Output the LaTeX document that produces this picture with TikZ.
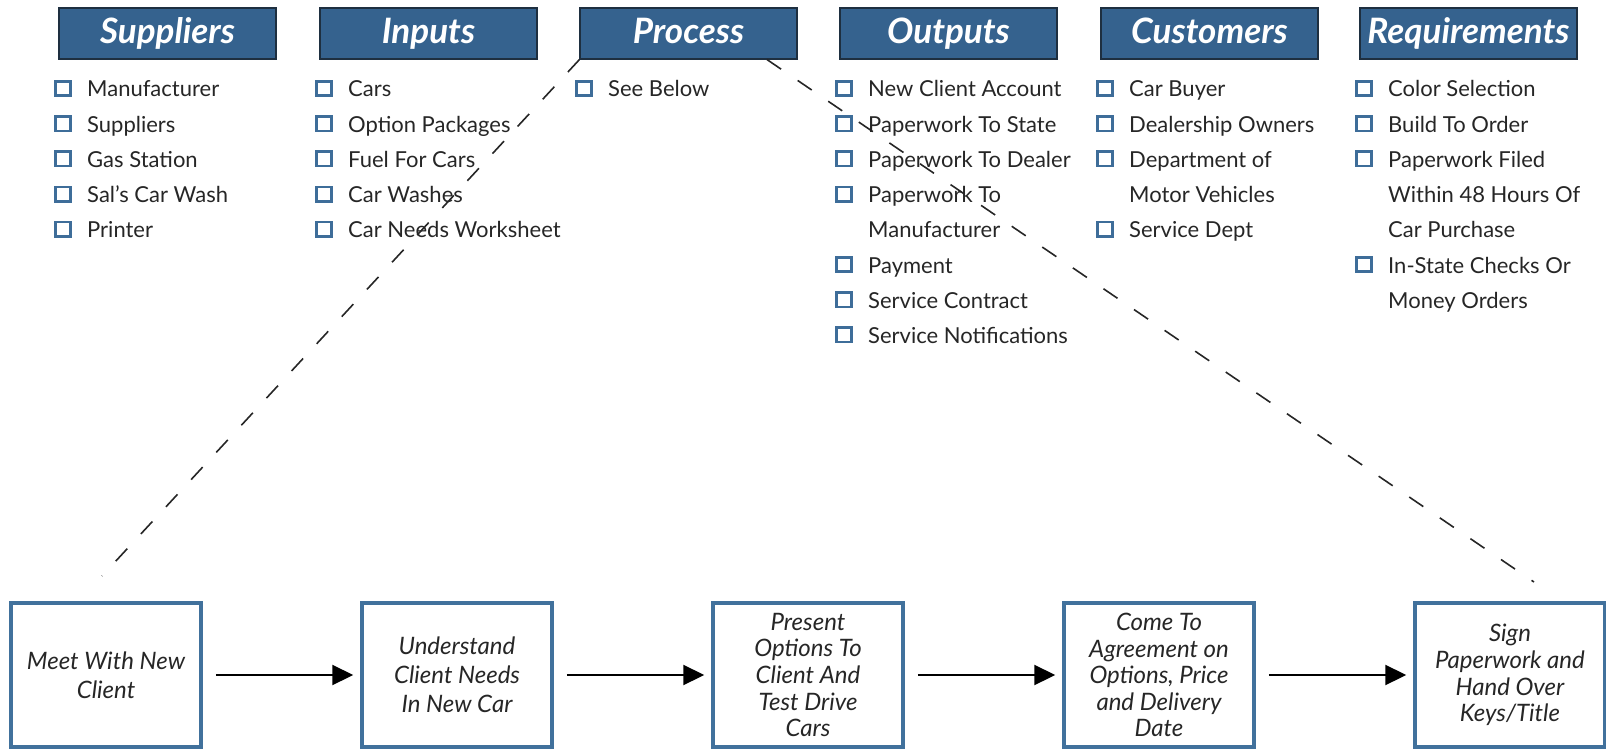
\documentclass[tikz,border=0pt]{standalone}
\usepackage{fontspec}
\setmainfont{Lato}
\usetikzlibrary{arrows.meta,calc}
\definecolor{hdrblue}{HTML}{35628E}
\definecolor{hdrline}{HTML}{1E2F40}
\definecolor{chkblue}{HTML}{3E6D99}
\definecolor{boxblue}{HTML}{41719C}
\definecolor{txt}{HTML}{262626}
\tikzset{
 hdr/.style={draw=hdrline, line width=1.2pt, fill=hdrblue, text=white, minimum width=217pt, minimum height=51pt, inner sep=0pt, font=\fontsize{35}{40}\selectfont\bfseries\itshape, text height=25pt, text depth=4pt},
 chk/.style={draw=chkblue, line width=2.6pt, minimum size=14.5pt, inner sep=0pt},
 itemtext/.style={anchor=base west, inner sep=0pt, text=txt, font=\fontsize{22}{26}\selectfont},
 stepbox/.style={draw=boxblue, line width=3.5pt, minimum width=190pt, minimum height=144pt, inner sep=0pt, align=center, text=txt, font=\fontsize{24}{26.6}\selectfont\itshape},
 wide/.style={font=\fontsize{24}{29}\selectfont\itshape},
 flow/.style={-{Triangle[length=21pt,width=20pt]}, line width=2.2pt, shorten <=13pt, shorten >=7pt},
 guide/.style={line width=1.6pt, dash pattern=on 17pt off 20pt, draw=black!85}
}
\newcommand\sipitem[4]{\node[chk] (#1b) at ({#2+4},{88.5+35.2*#3}) {};\node[itemtext] (#1) at ({#2+28},{97+35.2*#3}) {#4};}
\newcommand\sipcont[4]{\node[itemtext] (#1) at ({#2+28},{97+35.2*#3}) {#4};}
\begin{document}
\begin{tikzpicture}[x=1pt,y=-1pt]
\useasboundingbox (0,0) rectangle (1606,749);
% headers
\node[hdr] (hS) at (167.5,33.5) {Suppliers};
\node[hdr] (hI) at (428.5,33.5) {Inputs};
\node[hdr] (hP) at (688.5,33.5) {Process};
\node[hdr] (hO) at (948.5,33.5) {Outputs};
\node[hdr] (hC) at (1209.5,33.5) {Customers};
\node[hdr] (hR) at (1468.5,33.5) {Requirements};
% suppliers
\sipitem{s1}{59}{0}{Manufacturer}
\sipitem{s2}{59}{1}{Suppliers}
\sipitem{s3}{59}{2}{Gas Station}
\sipitem{s4}{59}{3}{Sal’s Car Wash}
\sipitem{s5}{59}{4}{Printer}
% inputs
\sipitem{i1}{320}{0}{Cars}
\sipitem{i2}{320}{1}{Option Packages}
\sipitem{i3}{320}{2}{Fuel For Cars}
\sipitem{i4}{320}{3}{Car Washes}
\sipitem{i5}{320}{4}{Car Needs Worksheet}
% process
\sipitem{p1}{580}{0}{See Below}
% outputs
\sipitem{o1}{840}{0}{New Client Account}
\sipitem{o2}{840}{1}{Paperwork To State}
\sipitem{o3}{840}{2}{Paperwork To Dealer}
\sipitem{o4}{840}{3}{Paperwork To}
\sipcont{o4c}{840}{4}{Manufacturer}
\sipitem{o5}{840}{5}{Payment}
\sipitem{o6}{840}{6}{Service Contract}
\sipitem{o7}{840}{7}{Service Notifications}
% customers
\sipitem{c1}{1101}{0}{Car Buyer}
\sipitem{c2}{1101}{1}{Dealership Owners}
\sipitem{c3}{1101}{2}{Department of}
\sipcont{c3c}{1101}{3}{Motor Vehicles}
\sipitem{c4}{1101}{4}{Service Dept}
% requirements
\sipitem{r1}{1360}{0}{Color Selection}
\sipitem{r2}{1360}{1}{Build To Order}
\sipitem{r3}{1360}{2}{Paperwork Filed}
\sipcont{r3c}{1360}{3}{Within 48 Hours Of}
\sipcont{r3d}{1360}{4}{Car Purchase}
\sipitem{r4}{1360}{5}{In-State Checks Or}
\sipcont{r4c}{1360}{6}{Money Orders}
% process steps
\node[stepbox,wide] (b1) at (106,675) {Meet With New\\Client};
\node[stepbox,wide] (b2) at (457,675) {Understand\\Client Needs\\In New Car};
\node[stepbox] (b3) at (808,675) {Present\\Options To\\Client And\\Test Drive\\Cars};
\node[stepbox] (b4) at (1159,675) {Come To\\Agreement on\\Options, Price\\and Delivery\\Date};
\node[stepbox] (b5) at (1510,675) {Sign\\Paperwork and\\Hand Over\\Keys/Title};
\draw[flow] (b1) -- (b2);
\draw[flow] (b2) -- (b3);
\draw[flow] (b3) -- (b4);
\draw[flow] (b4) -- (b5);
% guide lines
\coordinate (gA) at (102,576);
\coordinate (gB) at (1534,582);
\coordinate (pR) at ($(hP.south west)!0.86!(hP.south east)$);
\draw[guide] (hP.south west) -- (gA);
\draw[guide] (pR) -- (gB);
\end{tikzpicture}
\end{document}
